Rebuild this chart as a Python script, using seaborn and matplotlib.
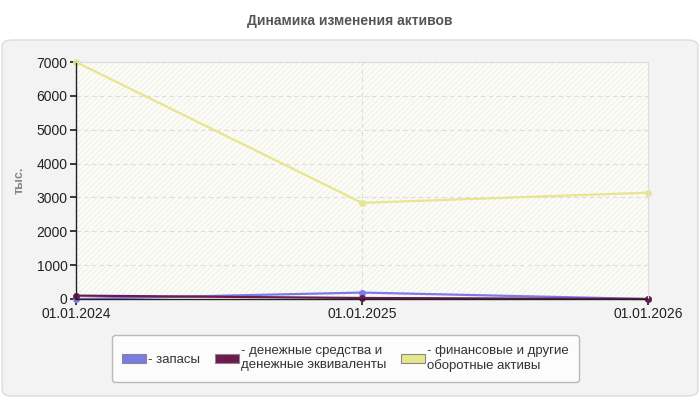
import pandas as pd
import numpy as np
import seaborn as sns
from matplotlib import pyplot as plt
from matplotlib.patches import FancyBboxPatch, Patch

sns.set_theme(style='white')
plt.rcParams['font.family'] = ['Liberation Sans', 'DejaVu Sans']

dates = ['01.01.2024', '01.01.2025', '01.01.2026']
zapasy = [0, 190, 0]
dengi = [100, 30, 0]
finansy = [7000, 2840, 3140]
names = ['- запасы', '- денежные средства и\nденежные эквиваленты', '- финансовые и другие\nоборотные активы']
colors = ['#7b7be8', '#6e1a4f', '#e6e68c']

df = pd.DataFrame({'pos': list(range(len(dates))) * 3,
                   'value': zapasy + dengi + finansy,
                   'series': [names[0]] * 3 + [names[1]] * 3 + [names[2]] * 3})

fig = plt.figure(figsize=(7, 4), dpi=100)
fig.patch.set_facecolor('white')

# gray rounded panel
panel = FancyBboxPatch((0.003, 0.01), 0.994, 0.89, boxstyle='round,pad=0,rounding_size=0.015',
                       transform=fig.transFigure, facecolor='#f3f3f3', edgecolor='#dddddd', lw=1,
                       zorder=-10)
fig.patches.append(panel)
fig.text(0.5, 0.948, 'Динамика изменения активов', ha='center', va='center',
         fontsize=10, fontweight='bold', color='#555555')

ax = fig.add_axes([76 / 700, 1 - 299 / 400, (648 - 76) / 700, (299 - 62) / 400])
ax.set_facecolor('#fdfdf7')
ax.add_patch(plt.Rectangle((0, 0), 1, 1, transform=ax.transAxes, facecolor='none',
                           hatch='//////', edgecolor='#f2f2ee', lw=0, zorder=0))

sns.lineplot(data=df, x='pos', y='value', hue='series', palette=colors, ax=ax,
             marker='o', markersize=5, markeredgewidth=0, linewidth=1.6, legend=False)

ax.set_xlim(0, 2)
ax.set_ylim(0, 7000)
ax.set_xticks(range(len(dates)))
ax.set_xticklabels(dates)
ax.set_yticks(range(0, 7001, 1000))
ax.tick_params(axis='both', labelsize=10, colors='#222222', length=4, pad=2)
ax.xaxis.set_ticks_position('bottom')
ax.yaxis.set_ticks_position('left')
ax.set_xlabel('')
ax.set_ylabel('тыс.', fontsize=9, fontweight='bold', color='#888888', labelpad=8)
for y in range(1000, 7001, 1000):
    ax.axhline(y, color='#dddddd', ls=(0, (4, 3)), lw=0.8, zorder=0.5)
ax.axvline(1, color='#dddddd', ls=(0, (4, 3)), lw=0.8, zorder=0.5)
for s in ['top', 'right']:
    ax.spines[s].set_color('#dddddd')
    ax.spines[s].set_linewidth(0.8)
for s in ['left', 'bottom']:
    ax.spines[s].set_color('#222222')
    ax.spines[s].set_linewidth(1)
for ln in ax.lines:
    ln.set_clip_on(False)

handles = [Patch(facecolor=c, edgecolor='#888888', lw=0.8) for c in colors]
leg = fig.legend(handles, names, loc='upper left', bbox_to_anchor=(112 / 700, 1 - 335 / 400),
                 ncol=3, frameon=True, fontsize=9.5, handlelength=1.8, handleheight=0.7,
                 handletextpad=0.2, columnspacing=1.1, borderpad=0.75, borderaxespad=0,
                 fancybox=True, alignment='left')
leg.get_frame().set_edgecolor('#aaaaaa')
leg.get_frame().set_facecolor('#ffffff')
for t in leg.get_texts():
    t.set_color('#333333')

fig.savefig('out.png', dpi=100)
